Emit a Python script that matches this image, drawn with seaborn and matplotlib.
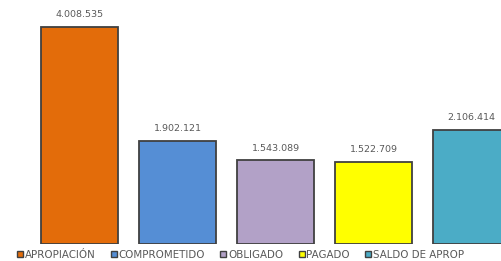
import matplotlib
matplotlib.use("Agg")
import matplotlib.pyplot as plt
from matplotlib.patches import Patch
import seaborn as sns

categories = ["APROPIACIÓN", "COMPROMETIDO", "OBLIGADO", "PAGADO", "SALDO DE APROP"]
values = [4008535, 1902121, 1543089, 1522709, 2106414]
labels = ["4.008.535", "1.902.121", "1.543.089", "1.522.709", "2.106.414"]
colors = ["#E36C0A", "#558ED5", "#B2A1C7", "#FFFF00", "#4BACC6"]

sns.set_style("white")
plt.rcParams["font.family"] = ["DejaVu Sans"]

fig = plt.figure(figsize=(5.01, 2.61), dpi=100)
ax = fig.add_axes([0, 17 / 261, 1, 244 / 261])

sns.barplot(
    x=categories, y=values, hue=categories, palette=colors, width=0.79,
    saturation=1, edgecolor="#404040", linewidth=1.3, legend=False, ax=ax,
)

# value labels above bars
for i, (v, lab) in enumerate(zip(values, labels)):
    ax.annotate(lab, (i, v), xytext=(0, 5.5), textcoords="offset points",
                ha="center", va="bottom", fontsize=6.8, color="#595959")

ax.set_xlim(-79.5 / 98, (501 - 79.5) / 98)
ax.set_ylim(0, 4008535 * 244 / 217)
ax.axis("off")

handles = [Patch(facecolor=c, edgecolor="#404040", linewidth=1) for c in colors]
fig.legend(
    handles, categories, loc="lower left", bbox_to_anchor=(0.015, -0.03),
    ncol=5, frameon=False, fontsize=7.4, handlelength=0.6, handleheight=0.6,
    handletextpad=0.15, columnspacing=1.5, labelcolor="#595959",
)

fig.savefig("out.png", dpi=100)
